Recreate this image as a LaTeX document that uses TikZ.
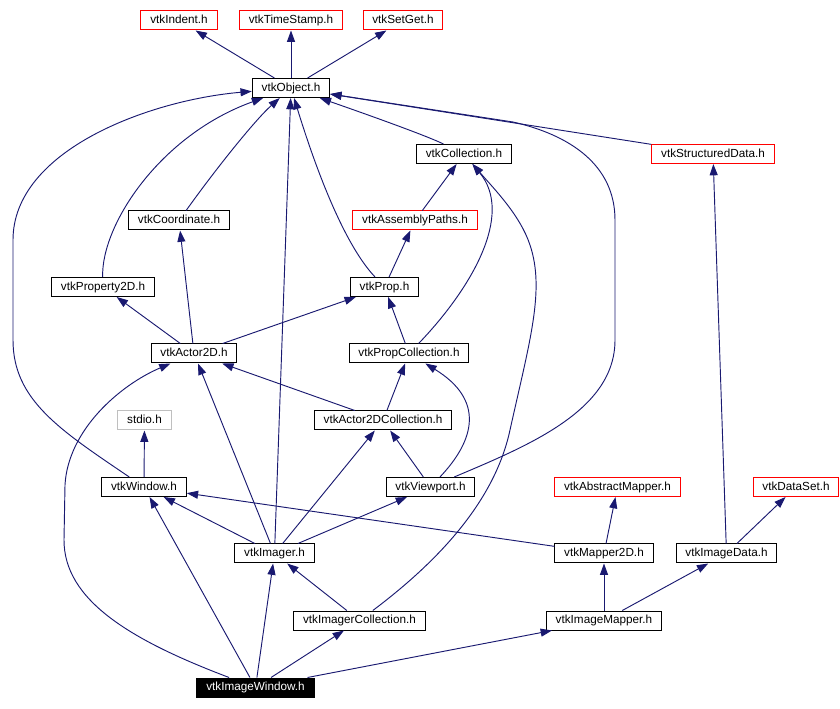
\documentclass[tikz,border=0pt]{standalone}
\usepackage{fontspec}
\setmainfont{Liberation Sans}
\usetikzlibrary{arrows.meta}
\definecolor{edgeblue}{RGB}{25,25,112}

\tikzset{
  hdr/.style={draw=black, fill=white, line width=0.75pt, inner xsep=7pt, inner ysep=0pt,
    minimum height=14.25pt, text height=6.4pt, text depth=1.8pt, font=\fontsize{8.8}{10}\selectfont},
  ext/.style={hdr, draw=red},
  sys/.style={hdr, draw=black!25},
  cur/.style={hdr, fill=black, text=white},
  dep/.style={draw=edgeblue, line width=0.7pt, -{Triangle[length=8.5pt,width=6pt]}},
}

\begin{document}
\begin{tikzpicture}[x=0.75pt, y=-0.75pt]
  \useasboundingbox (0,0) rectangle (840,709);

  % headers, top to bottom
  \node[ext] (indent) at (179,20.5) {vtkIndent.h};
  \node[ext] (tstamp) at (291,20.5) {vtkTimeStamp.h};
  \node[ext] (setget) at (403,20.5) {vtkSetGet.h};
  \node[hdr] (obj) at (291,88) {vtkObject.h};
  \node[hdr] (coll) at (464,154) {vtkCollection.h};
  \node[ext] (sdata) at (713,154) {vtkStructuredData.h};
  \node[hdr] (coord) at (179,220.5) {vtkCoordinate.h};
  \node[ext] (apaths) at (415,220.5) {vtkAssemblyPaths.h};
  \node[hdr] (prop2d) at (103,287) {vtkProperty2D.h};
  \node[hdr] (prop) at (384.5,287) {vtkProp.h};
  \node[hdr] (actor) at (194,353.5) {vtkActor2D.h};
  \node[hdr] (pcoll) at (409,353.5) {vtkPropCollection.h};
  \node[sys] (stdio) at (144.5,420.5) {stdio.h};
  \node[hdr] (acoll) at (383,420.5) {vtkActor2DCollection.h};
  \node[hdr] (win) at (144,487) {vtkWindow.h};
  \node[hdr] (vport) at (430.5,487) {vtkViewport.h};
  \node[ext] (amap) at (617.5,487) {vtkAbstractMapper.h};
  \node[ext] (dset) at (796,487) {vtkDataSet.h};
  \node[hdr] (imgr) at (274.5,553.5) {vtkImager.h};
  \node[hdr] (map2d) at (604,553.5) {vtkMapper2D.h};
  \node[hdr] (idata) at (726.5,553.5) {vtkImageData.h};
  \node[hdr] (icoll) at (359.5,620.5) {vtkImagerCollection.h};
  \node[hdr] (imap) at (604,620.5) {vtkImageMapper.h};
  \node[cur] (iwin) at (255.5,687.5) {vtkImageWindow.h};

  % vtkObject.h
  \foreach \p in {indent, tstamp, setget} {
      \draw[dep] (obj) -- (\p);
    }
  \draw[dep] (coll) .. controls (425,135) and (360,112) .. (obj);
  \draw[dep] (sdata) -- (obj);
  \draw[dep] (coord) .. controls (215,170) and (255,120) .. (obj);
  \draw[dep] (prop2d) .. controls (101,225) and (160,135) .. (obj);
  \draw[dep] (win) .. controls (60,430) and (13,400) .. (13,340) -- (13,240)
    .. controls (13,150) and (150,100) .. (obj);
  \draw[dep] (imgr) -- (obj);
  \draw[dep] (prop) .. controls (340,240) and (310,150) .. (obj);
  \draw[dep] (vport) .. controls (530,445) and (615,410) .. (615,340) -- (615,220)
    .. controls (615,165) and (570,135) .. (513,122) -- (obj);

  % vtkCollection.h
  \draw[dep] (apaths) -- (coll);
  \draw[dep] (pcoll) .. controls (470,290) and (515,215) .. (coll);
  \draw[dep] (icoll) .. controls (440,560) and (495,500) .. (510,430)
    .. controls (530,340) and (545,290) .. (530,245)
    .. controls (520,215) and (495,190) .. (coll);

  % middle rows
  \draw[dep] (prop) -- (apaths);
  \draw[dep] (actor) -- (prop2d);
  \draw[dep] (actor) -- (coord);
  \draw[dep] (actor) -- (prop);
  \draw[dep] (pcoll) -- (prop);
  \draw[dep] (acoll) -- (actor);
  \draw[dep] (acoll) -- (pcoll);
  \draw[dep] (win) -- (stdio);
  \draw[dep] (vport) -- (acoll);
  \draw[dep] (vport) .. controls (475,440) and (485,400) .. (pcoll);

  % vtkImager.h
  \foreach \p in {actor, acoll, win, vport} {
      \draw[dep] (imgr) -- (\p);
    }

  % mappers and image data
  \draw[dep] (map2d) -- (win);
  \draw[dep] (map2d) -- (amap);
  \draw[dep] (idata) -- (sdata);
  \draw[dep] (idata) -- (dset);
  \draw[dep] (imap) -- (map2d);
  \draw[dep] (imap) -- (idata);
  \draw[dep] (icoll) -- (imgr);

  % vtkImageWindow.h
  \draw[dep] (iwin) .. controls (130,640) and (64,600) .. (64,540) -- (65,485)
    .. controls (68,430) and (120,385) .. (actor);
  \foreach \p in {win, imgr, icoll, imap} {
      \draw[dep] (iwin) -- (\p);
    }

\end{tikzpicture}
\end{document}
